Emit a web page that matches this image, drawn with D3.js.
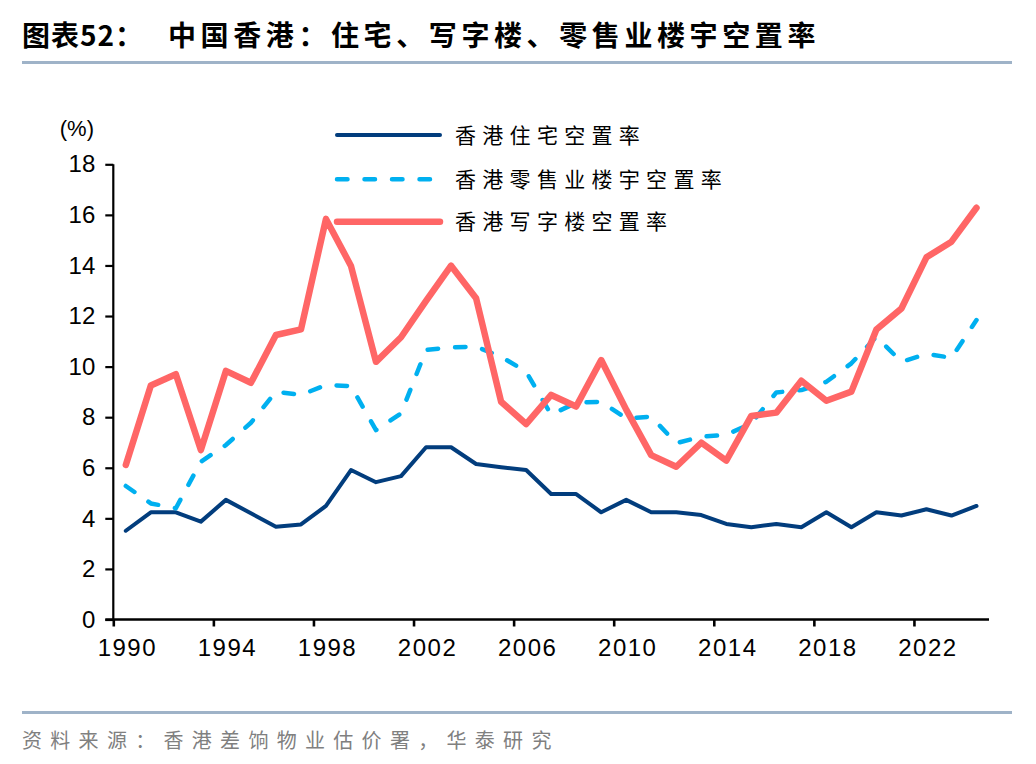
<!DOCTYPE html>
<html><head><meta charset="utf-8">
<script src="https://cdn.jsdelivr.net/npm/d3@7"></script>
<style>
html,body{margin:0;padding:0;background:#fff;}
svg{display:block;}
</style></head>
<body>
<svg id="c" width="1036" height="764"></svg>
<script>
const years = d3.range(1990, 2025);
const xTickYears = [1990,1994,1998,2002,2006,2010,2014,2018,2022];
const yTicks = [0,2,4,6,8,10,12,14,16,18];
const seriesNames = ["香港住宅空置率","香港零售业楼宇空置率","香港写字楼空置率"];
const residential = [3.51,4.24,4.24,3.87,4.73,4.20,3.67,3.76,4.49,5.91,
                     5.43,5.67,6.81,6.81,6.15,6.02,5.91,4.96,4.96,4.24,
                     4.73,4.24,4.24,4.13,3.78,3.65,3.78,3.65,4.24,3.65,
                     4.24,4.11,4.36,4.11,4.49];
const retail = [5.28,4.59,4.40,6.24,6.90,7.78,9.01,8.88,9.27,9.23,
                7.49,8.15,10.66,10.76,10.79,10.39,9.80,8.10,8.57,8.61,
                7.95,8.02,6.97,7.23,7.30,7.76,8.98,9.07,9.40,10.13,
                11.18,10.19,10.50,10.35,11.84];
const office = [6.11,9.25,9.70,6.70,9.83,9.36,11.25,11.47,15.84,13.98,
                10.19,11.16,12.60,13.99,12.70,8.61,7.73,8.88,8.42,10.26,
                8.30,6.50,6.04,6.99,6.28,8.05,8.18,9.44,8.65,9.01,
                11.47,12.30,14.32,14.94,16.28];

const svg = d3.select("#c");
const L = 113.3, R = 989, T = 164.3, B = 619.5;

const x = d3.scaleLinear().domain([1990, 2025]).range([L, R]);
const y = d3.scaleLinear().domain([0, 18]).range([B, T]);
const half = (x(1991) - x(1990)) / 2;

// Title
svg.append("text").attr("x", 22).attr("y", 46)
  .attr("font-family", "'Noto Sans CJK SC'").attr("font-weight", "bold")
  .attr("font-size", 28).attr("letter-spacing", 1).attr("fill", "#000")
  .text("图表52：");
svg.append("text").attr("x", 168).attr("y", 46)
  .attr("font-family", "'Noto Sans CJK SC'").attr("font-weight", "bold")
  .attr("font-size", 28).attr("letter-spacing", 4.6).attr("fill", "#000")
  .text("中国香港：住宅、写字楼、零售业楼宇空置率");
svg.append("rect").attr("x", 22).attr("y", 61).attr("width", 990).attr("height", 3).attr("fill", "#9fb3c8");

// Footer
svg.append("rect").attr("x", 22).attr("y", 711).attr("width", 990).attr("height", 3).attr("fill", "#9fb3c8");
svg.append("text").attr("x", 22).attr("y", 748)
  .attr("font-family", "'Noto Sans CJK SC'").attr("font-size", 20)
  .attr("letter-spacing", 8.3).attr("fill", "#808080")
  .text("资料来源：香港差饷物业估价署，华泰研究");

// Y axis
const yAxis = svg.append("g").attr("transform", `translate(${L},0)`)
  .call(d3.axisLeft(y).tickValues(yTicks).tickSize(8).tickPadding(10).tickFormat(d3.format("d")));
yAxis.select(".domain").attr("stroke", "#000").attr("stroke-width", 2.2).attr("d", `M0,${T}V${B}`);
yAxis.selectAll(".tick line").attr("stroke", "#000").attr("stroke-width", 2.2);
yAxis.selectAll(".tick text").attr("font-family", "'Liberation Sans', Arial, sans-serif")
  .attr("font-size", 24).attr("fill", "#000");

// X axis
const xAxis = svg.append("g").attr("transform", `translate(0,${B})`)
  .call(d3.axisBottom(x).tickValues(xTickYears).tickSize(7).tickPadding(12).tickFormat(d3.format("d")));
xAxis.select(".domain").attr("stroke", "#000").attr("stroke-width", 2.6).attr("d", `M${L-8},0H${R}`);
xAxis.selectAll(".tick line").attr("stroke", "#000").attr("stroke-width", 2.6);
xAxis.selectAll(".tick text").attr("font-family", "'Liberation Sans', Arial, sans-serif")
  .attr("font-size", 24).attr("letter-spacing", 1.5).attr("fill", "#000")
  .attr("dx", half + 1);

// (%)
svg.append("text").attr("x", 94).attr("y", 136).attr("text-anchor", "end")
  .attr("font-family", "'Liberation Sans', Arial, sans-serif").attr("font-size", 22).attr("fill", "#000")
  .text("(%)");

const styles = [
  {data: residential, color: "#023d7d", width: 4, dash: null},
  {data: retail, color: "#00b0f0", width: 4.5, dash: "10.5,17"},
  {data: office, color: "#ff6666", width: 6.5, dash: null}
];

const line = d3.line().x((d, i) => x(years[i]) + half).y(d => y(d));

styles.forEach(s => {
  svg.append("path").datum(s.data)
    .attr("d", line)
    .attr("fill", "none")
    .attr("stroke", s.color)
    .attr("stroke-width", s.width)
    .attr("stroke-linejoin", "round")
    .attr("stroke-linecap", "round")
    .attr("stroke-dasharray", s.dash);
});

// Legend
const legY = [135, 179.3, 221.7];
styles.forEach((s, i) => {
  svg.append("line").attr("x1", 337).attr("x2", 440).attr("y1", legY[i]).attr("y2", legY[i])
    .attr("stroke", s.color).attr("stroke-width", s.width)
    .attr("stroke-linecap", "round").attr("stroke-dasharray", s.dash);
  svg.append("text").attr("x", 455).attr("y", legY[i]).attr("dy", "0.36em")
    .attr("font-family", "'Noto Sans CJK SC'").attr("font-size", 21)
    .attr("letter-spacing", 6.3).attr("fill", "#000")
    .text(seriesNames[i]);
});
</script>
</body></html>
